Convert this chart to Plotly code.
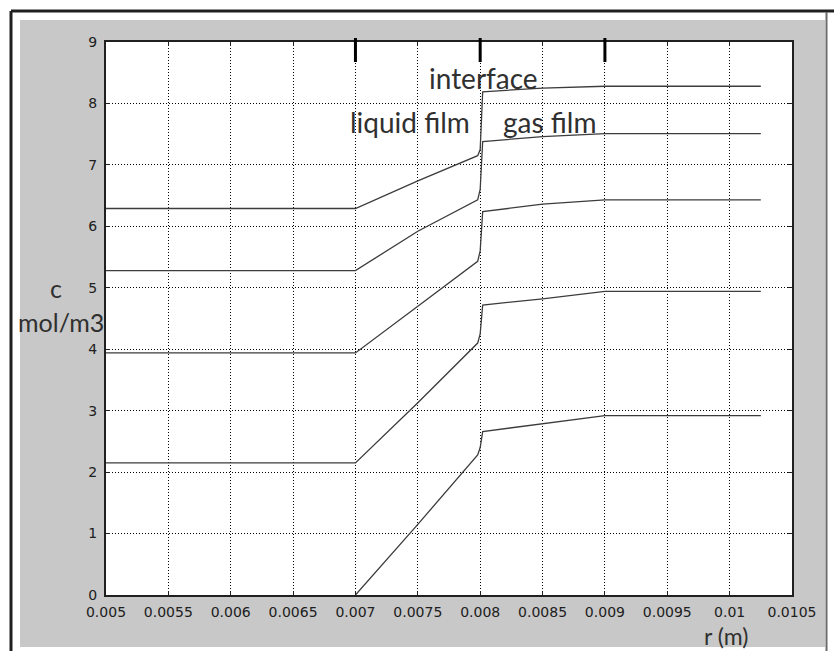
import plotly.graph_objects as go

# --- data ---
r_points = [0.005, 0.007, 0.0075, 0.00798, 0.008, 0.00802, 0.0085, 0.009, 0.01025]
c_series = {
    "c1": [6.29, 6.29, 6.74, 7.15, 7.25, 8.19, 8.25, 8.28, 8.28],
    "c2": [5.28, 5.28, 5.92, 6.43, 6.60, 7.38, 7.46, 7.51, 7.51],
    "c3": [3.94, 3.94, 4.70, 5.43, 5.60, 6.24, 6.36, 6.43, 6.43],
    "c4": [2.15, 2.15, 3.13, 4.10, 4.25, 4.72, 4.82, 4.94, 4.94],
    "c5": [None, 0.0, 1.15, 2.28, 2.40, 2.66, 2.79, 2.92, 2.92],
}
x_ticks = [0.005, 0.0055, 0.006, 0.0065, 0.007, 0.0075, 0.008, 0.0085, 0.009, 0.0095, 0.01, 0.0105]
x_ticktext = ["0.005", "0.0055", "0.006", "0.0065", "0.007", "0.0075", "0.008", "0.0085",
              "0.009", "0.0095", "0.01", "0.0105"]
y_ticks = list(range(0, 10))
boundaries = [0.007, 0.008, 0.009]

W, H = 834, 651
L, R, T, B = 106, 792, 42, 595

fig = go.Figure()
for name, vals in c_series.items():
    xs = [x for x, v in zip(r_points, vals) if v is not None]
    ys = [v for v in vals if v is not None]
    fig.add_trace(go.Scatter(x=xs, y=ys, mode="lines", name=name,
                             line=dict(color="#3c3c3c", width=1.3), showlegend=False))

shapes = []
def px(xp):
    return (xp - L) / (R - L)
def py(yp):
    return (B - yp) / (B - T)

shapes.append(dict(type="rect", xref="paper", yref="paper", x0=px(20), x1=px(825), y0=py(647), y1=py(20),
                   fillcolor="#c8c8c8", line=dict(width=0), layer="below"))
shapes.append(dict(type="rect", xref="paper", yref="paper", x0=0, x1=1, y0=0, y1=1,
                   fillcolor="white", line=dict(width=0), layer="below"))
shapes.append(dict(type="line", xref="paper", yref="paper", x0=px(11), x1=px(11), y0=py(651), y1=py(11),
                   line=dict(color="#202020", width=3)))
shapes.append(dict(type="line", xref="paper", yref="paper", x0=px(11), x1=px(834), y0=py(11), y1=py(11),
                   line=dict(color="#202020", width=3)))
shapes.append(dict(type="line", xref="paper", yref="paper", x0=px(826.5), x1=px(826.5), y0=py(651), y1=py(12),
                   line=dict(color="#6a6a6a", width=2)))
for b in boundaries:
    shapes.append(dict(type="line", xref="x", yref="paper", x0=b, x1=b, y0=py(62), y1=py(38),
                       line=dict(color="black", width=3)))

def ann(text, x, y, size=28):
    return dict(text=text, x=px(x), y=py(y), xref="paper", yref="paper", showarrow=False,
                xanchor="center", yanchor="middle",
                font=dict(family="Lato, Open Sans, sans-serif", size=size, color="#303030"))

annotations = [
    ann("interface", 484, 78),
    ann("liquid film", 410, 122),
    ann("gas film", 549, 122),
    ann("c", 56, 288, 25),
    ann("mol/m3", 61, 322, 25),
    ann("r (m)", 726, 636, 23),
]

tick_font = dict(family="DejaVu Sans, sans-serif", size=14, color="#202020")
fig.update_layout(
    width=W, height=H,
    margin=dict(l=L, r=W - R, t=T, b=H - B, pad=0),
    paper_bgcolor="white", plot_bgcolor="white",
    shapes=shapes, annotations=annotations,
    xaxis=dict(range=[0.005, 0.0105], tickvals=x_ticks, ticktext=x_ticktext,
               showgrid=True, gridcolor="black", gridwidth=1, griddash="1px,2px",
               showline=True, linecolor="#202020", linewidth=2, mirror="ticks",
               ticks="inside", ticklen=4, tickcolor="#202020", tickfont=tick_font,
               ticklabelstandoff=3, zeroline=False, fixedrange=True),
    yaxis=dict(range=[0, 9], tickvals=y_ticks,
               showgrid=True, gridcolor="black", gridwidth=1, griddash="1px,2px",
               showline=True, linecolor="#202020", linewidth=2, mirror="ticks",
               ticks="inside", ticklen=4, tickcolor="#202020", tickfont=tick_font,
               ticklabelstandoff=4, zeroline=False, fixedrange=True),
)

fig.write_html("out.html")
